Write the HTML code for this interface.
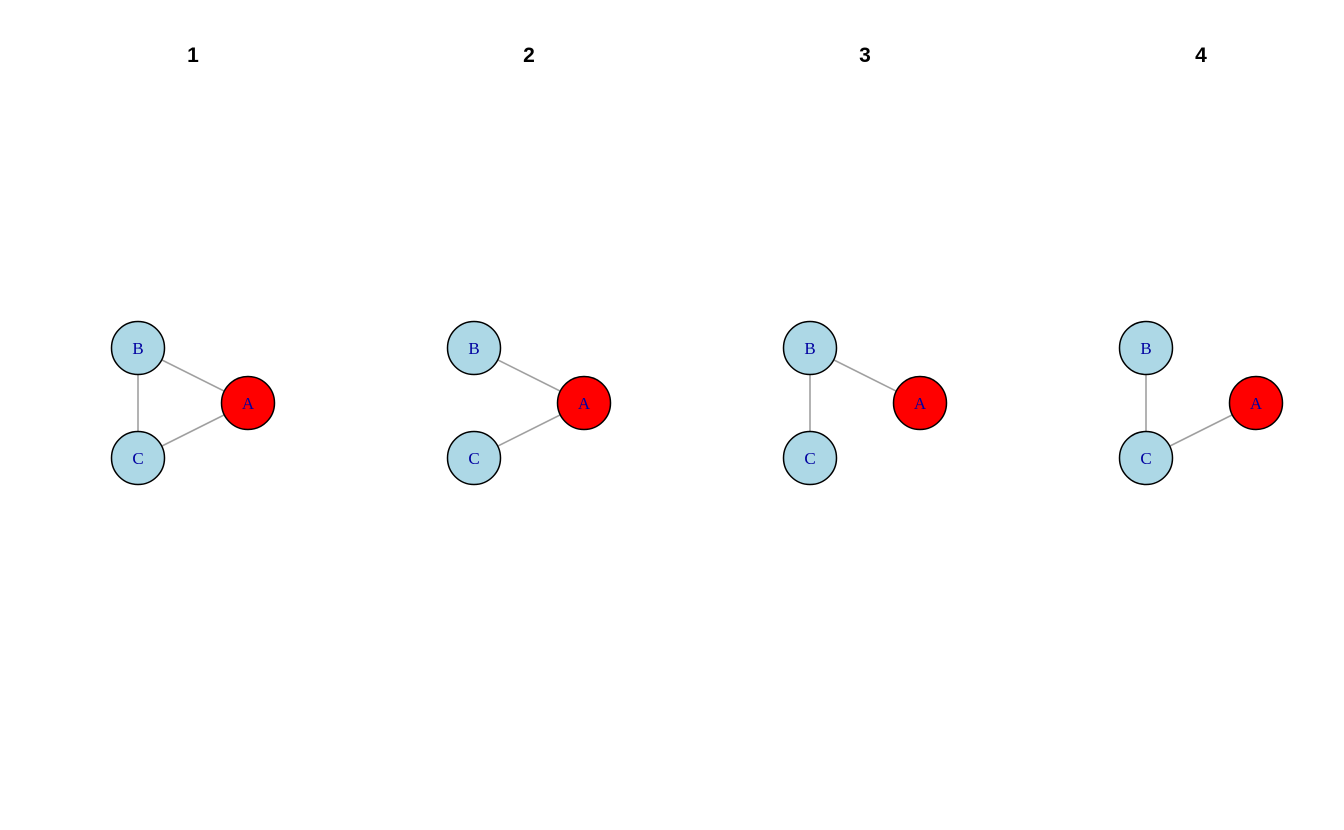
<!DOCTYPE html>
<html><head><meta charset="utf-8"><style>
html,body{margin:0;padding:0;background:#fff;}
svg{display:block;}
</style></head><body>
<svg id="chart" width="1344" height="830"></svg>
<script>
const panelTitles = ["1","2","3","4"];
const nodeNames = ["A","B","C"];
const nodeX = [1, -1, -1];
const nodeY = [0, 1, -1];
const nodeColors = ["red","lightblue","lightblue"];
const panelEdges = [
  [["B","A"],["C","A"],["B","C"]],
  [["B","A"],["C","A"]],
  [["B","A"],["B","C"]],
  [["B","C"],["C","A"]]
];
const NS = "http://www.w3.org/2000/svg";
const svg = document.getElementById("chart");
function sx(p, v){ return 193 + p*336 + v*55; }
function sy(v){ return 403 - v*55; }
function mk(tag, attrs, parent){
  const e = document.createElementNS(NS, tag);
  for (const k in attrs) e.setAttribute(k, attrs[k]);
  parent.appendChild(e); return e;
}
panelTitles.forEach((t, p) => {
  const g = mk("g", {}, svg);
  
  
  const title = mk("text", {x: sx(p,0), y: 62, "text-anchor":"middle", "font-family":"Liberation Sans, sans-serif", "font-size":"21", "font-weight":"bold", fill:"#000"}, g);
  
  
  title.textContent = t;
  panelEdges[p].forEach(([a,b]) => {
    const i = nodeNames.indexOf(a), j = nodeNames.indexOf(b);
    const l = mk("line", {x1: sx(p,nodeX[i]), y1: sy(nodeY[i]), x2: sx(p,nodeX[j]), y2: sy(nodeY[j]), stroke:"#a0a0a0", "stroke-width":"1.6"}, g);
    
    
  });
  nodeNames.forEach((n, i) => {
    const c = mk("circle", {cx: sx(p,nodeX[i]), cy: sy(nodeY[i]), r: 26.5, fill: nodeColors[i], stroke:"#000", "stroke-width":"1.5"}, g);
    
    
    const tx = mk("text", {x: sx(p,nodeX[i]), y: sy(nodeY[i]) + 6, "text-anchor":"middle", "font-family":"Liberation Serif, serif", "font-size":"17", fill:"#0000a0"}, g);
    
    
    tx.textContent = n;
  });
});
</script>
</body></html>
